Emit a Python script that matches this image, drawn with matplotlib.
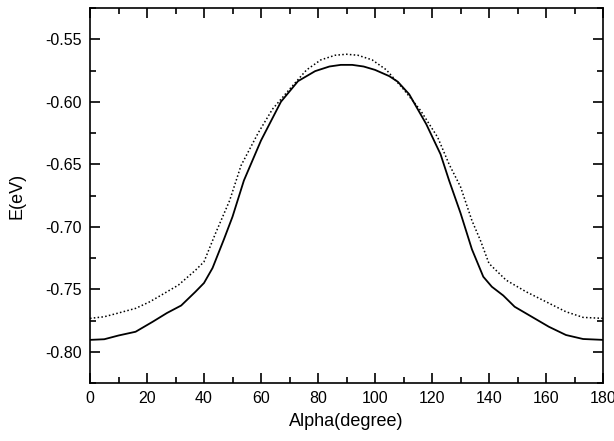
import matplotlib
matplotlib.use("Agg")
import matplotlib.pyplot as plt
from matplotlib.ticker import MultipleLocator, FormatStrFormatter

plt.rcParams['font.family'] = ['Liberation Sans', 'DejaVu Sans']

# solid curve
alpha_solid = [0, 5, 10, 16, 22, 27, 32, 37, 40, 43, 47, 50, 54, 60, 67, 73, 79, 84, 88,
               92, 96, 100, 105, 108, 112, 118, 123, 126, 130, 134, 138, 141, 145, 149,
               155, 161, 167, 173, 180]
e_solid = [-0.7905, -0.790, -0.787, -0.784, -0.776, -0.769, -0.763, -0.752, -0.745,
           -0.733, -0.710, -0.692, -0.663, -0.631, -0.600, -0.5835, -0.5755, -0.5718,
           -0.5705, -0.5705, -0.5718, -0.5745, -0.5795, -0.5840, -0.594, -0.618, -0.642,
           -0.663, -0.689, -0.718, -0.740, -0.748, -0.755, -0.764, -0.772, -0.780,
           -0.7866, -0.7898, -0.7905]

# dotted curve
alpha_dot = [0, 5, 10, 16, 21, 25, 31, 37, 40, 44, 49, 53, 59, 64, 70, 76, 81, 86, 90,
             94, 99, 104, 110, 116, 122, 126, 130, 134, 137, 140, 146, 153, 160,
             167, 173, 180]
e_dot = [-0.7733, -0.772, -0.769, -0.7653, -0.760, -0.7547, -0.7467, -0.7348, -0.728,
         -0.7055, -0.679, -0.651, -0.625, -0.606, -0.590, -0.5745, -0.5665, -0.5628,
         -0.5620, -0.5628, -0.5665, -0.5745, -0.590, -0.607, -0.6285, -0.650, -0.668,
         -0.695, -0.711, -0.7294, -0.7427, -0.752, -0.760, -0.768, -0.7725, -0.7733]

fig = plt.figure(figsize=(6.14, 4.41), dpi=100)
ax = fig.add_axes([90 / 614, 58 / 441, 513 / 614, 375 / 441])

ax.plot(alpha_solid, e_solid, color='black', lw=1.3, ls='-')
ax.plot(alpha_dot, e_dot, color='black', lw=1.1, ls=(0, (1, 1.5)))

ax.set_xlim(0, 180)
ax.set_ylim(-0.825, -0.525)
ax.xaxis.set_major_locator(MultipleLocator(20))
ax.xaxis.set_minor_locator(MultipleLocator(10))
ax.yaxis.set_major_locator(MultipleLocator(0.05))
ax.yaxis.set_minor_locator(MultipleLocator(0.025))
ax.yaxis.set_major_formatter(FormatStrFormatter('%.2f'))

ax.tick_params(which='both', direction='in', top=True, right=True, labelsize=11.5, width=1.2)
ax.tick_params(which='major', length=7, pad=6)
ax.tick_params(which='minor', length=4)
for s in ax.spines.values():
    s.set_linewidth(1.2)

ax.set_xlabel("Alpha(degree)", fontsize=13, labelpad=5)
ax.set_ylabel("E(eV)", fontsize=13, labelpad=14)

fig.savefig("out.png", dpi=100)
